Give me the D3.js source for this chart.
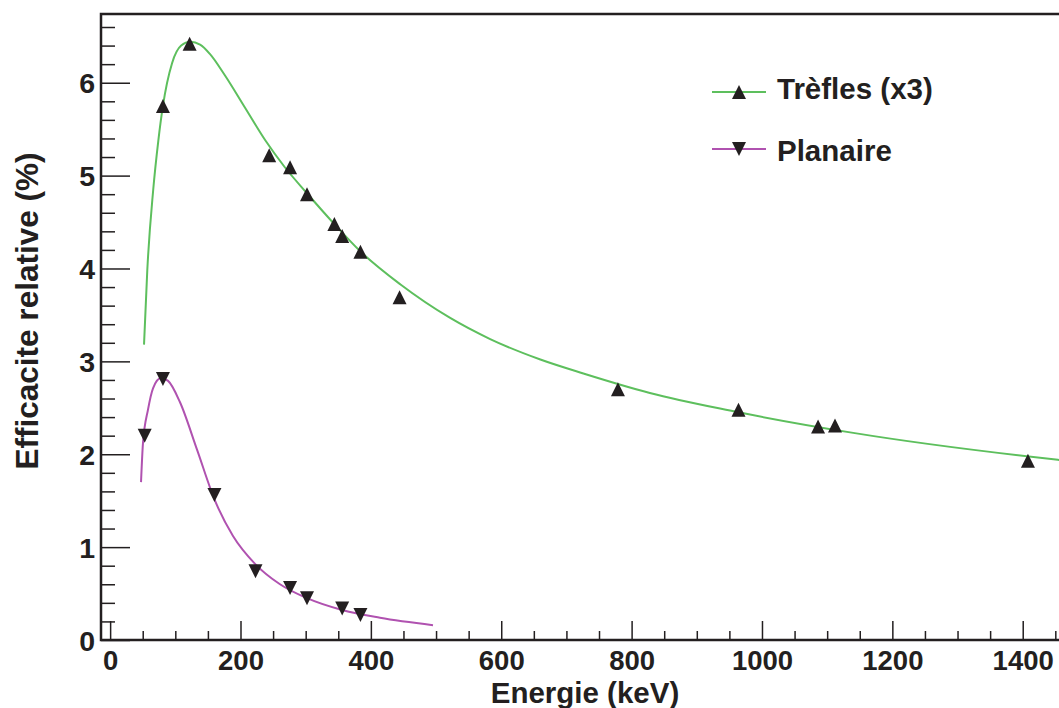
<!DOCTYPE html>
<html>
<head>
<meta charset="utf-8">
<script src="https://cdn.jsdelivr.net/npm/d3@7"></script>
<style>
  html, body { margin: 0; padding: 0; background: #fff; }
  svg { display: block; overflow: hidden; }
  text { font-family: "Liberation Sans", Arial, Helvetica, sans-serif; font-weight: bold; fill: #231f20; }
</style>
</head>
<body>
<svg id="chart"></svg>
<script>
'use strict'

// measured points (energy keV, relative efficiency %)
const treflesEnergy = [81, 122, 244, 276, 302, 344, 356, 384, 444, 779, 964, 1086, 1112, 1408];
const treflesEff = [5.75, 6.42, 5.22, 5.09, 4.80, 4.48, 4.35, 4.18, 3.69, 2.70, 2.48, 2.30, 2.31, 1.93];

const planaireEnergy = [53, 81, 160, 223, 276, 302, 356, 384];
const planaireEff = [2.20, 2.81, 1.56, 0.74, 0.56, 0.45, 0.34, 0.27];

// fitted curves
const treflesFitEnergy = [52, 57, 66, 74, 81, 95, 109, 123, 138, 153, 176, 207, 238, 268, 302, 345, 383, 445, 521, 583, 660, 726, 828, 951, 1140, 1454, 1480];
const treflesFitEff = [3.18, 3.98, 4.84, 5.38, 5.75, 6.21, 6.40, 6.44, 6.41, 6.31, 6.08, 5.73, 5.38, 5.09, 4.81, 4.47, 4.19, 3.83, 3.47, 3.24, 3.02, 2.87, 2.66, 2.47, 2.23, 1.94, 1.92];

const planaireFitEnergy = [47.4, 50.4, 58.1, 65.8, 78.1, 88.9, 107.2, 133.3, 160.9, 188.5, 222.3, 260.6, 302.0, 357.2, 414.0, 495.3];
const planaireFitEff = [1.70, 2.12, 2.48, 2.71, 2.82, 2.79, 2.56, 2.05, 1.50, 1.12, 0.82, 0.60, 0.45, 0.32, 0.24, 0.16];

const xMajor = [0, 200, 400, 600, 800, 1000, 1200, 1400];
const yMajor = [0, 1, 2, 3, 4, 5, 6];

const legendLabels = ["Trèfles (x3)", "Planaire"];

const width = 1059, height = 708;
const frame = { left: 101, right: 1069, top: 14, bottom: 640 };
const green = "#5dbf5d", purple = "#b052b0", ink = "#231f20";

const svg = d3.select("#chart").attr("width", width).attr("height", height);

const x = d3.scaleLinear().domain([-14, 1471]).range([frame.left, frame.right]);
const y = d3.scaleLinear().domain([0, 6.74]).range([frame.bottom, frame.top]);

const xMinor = d3.range(0, 1451, 50).filter(v => v % 200 !== 0);
const yMinor = d3.range(0, 6.7, 0.2).map(v => +v.toFixed(1)).filter(v => Math.abs(v - Math.round(v)) > 1e-6);

// x axis (ticks pointing inward)
const gx = svg.append("g").attr("transform", `translate(0,${frame.bottom})`);
gx.call(d3.axisBottom(x).tickValues(xMajor).tickSizeInner(-19).tickSizeOuter(0).tickPadding(10).tickFormat(d3.format("d")));
gx.append("g").call(d3.axisBottom(x).tickValues(xMinor).tickSizeInner(-9).tickSizeOuter(0).tickFormat(""));
gx.selectAll(".domain").remove();
gx.selectAll("line").attr("stroke", ink).attr("stroke-width", 1.5);
gx.selectAll("text").attr("font-size", 27.5).attr("fill", ink);

// y axis
const gy = svg.append("g").attr("transform", `translate(${frame.left},0)`);
gy.call(d3.axisLeft(y).tickValues(yMajor).tickSizeInner(-29).tickSizeOuter(0).tickPadding(6).tickFormat(d3.format("d")));
gy.append("g").call(d3.axisLeft(y).tickValues(yMinor).tickSizeInner(-14).tickSizeOuter(0).tickFormat(""));
gy.selectAll(".domain").remove();
gy.selectAll("line").attr("stroke", ink).attr("stroke-width", 1.5);
gy.selectAll("text").attr("font-size", 28.5).attr("fill", ink).attr("dy", "0.36em");

// frame
svg.append("path")
    .attr("d", `M${frame.right},${frame.top}H${frame.left}V${frame.bottom}H${frame.right}`)
    .attr("fill", "none")
    .attr("stroke", ink)
    .attr("stroke-width", 2.5);

// axis titles
svg.append("text")
    .attr("x", (frame.left + frame.right) / 2)
    .attr("y", 703)
    .attr("text-anchor", "middle")
    .attr("font-size", 29.5)
    .text("Energie (keV)");

svg.append("text")
    .attr("transform", "translate(38,311) rotate(-90)")
    .attr("text-anchor", "middle")
    .attr("font-size", 31.5)
    .text("Efficacite relative (%)");

// curves
const line = d3.line().x(d => x(d[0])).y(d => y(d[1])).curve(d3.curveMonotoneX);

svg.append("path")
    .datum(d3.zip(treflesFitEnergy, treflesFitEff))
    .attr("fill", "none")
    .attr("stroke", green)
    .attr("stroke-width", 2)
    .attr("d", line);

svg.append("path")
    .datum(d3.zip(planaireFitEnergy, planaireFitEff))
    .attr("fill", "none")
    .attr("stroke", purple)
    .attr("stroke-width", 2)
    .attr("d", line);

// triangle markers
function triangle(up) {
    return {
        draw(ctx, size) {
            const h = Math.sqrt(size) / 2;
            const s = up ? 1 : -1;
            ctx.moveTo(0, -s * h);
            ctx.lineTo(h, s * h);
            ctx.lineTo(-h, s * h);
            ctx.closePath();
        }
    };
}
const upSymbol = d3.symbol().type(triangle(true)).size(14 * 14);
const downSymbol = d3.symbol().type(triangle(false)).size(14 * 14);

svg.append("g").selectAll("path")
    .data(d3.zip(treflesEnergy, treflesEff))
    .enter().append("path")
    .attr("transform", d => `translate(${x(d[0])},${y(d[1])})`)
    .attr("d", upSymbol)
    .attr("fill", ink);

svg.append("g").selectAll("path")
    .data(d3.zip(planaireEnergy, planaireEff))
    .enter().append("path")
    .attr("transform", d => `translate(${x(d[0])},${y(d[1])})`)
    .attr("d", downSymbol)
    .attr("fill", ink);

// legend
const legend = svg.append("g");
const entries = [
    { label: legendLabels[0], color: green, sym: upSymbol, ly: 92, ty: 99 },
    { label: legendLabels[1], color: purple, sym: downSymbol, ly: 149, ty: 161 }
];
entries.forEach(e => {
    legend.append("line")
        .attr("x1", 712).attr("x2", 766)
        .attr("y1", e.ly).attr("y2", e.ly)
        .attr("stroke", e.color).attr("stroke-width", 2);
    legend.append("path")
        .attr("transform", `translate(739,${e.ly})`)
        .attr("d", e.sym)
        .attr("fill", ink);
    legend.append("text")
        .attr("x", 777).attr("y", e.ty)
        .attr("font-size", 29.5)
        .text(e.label);
});
</script>
</body>
</html>
